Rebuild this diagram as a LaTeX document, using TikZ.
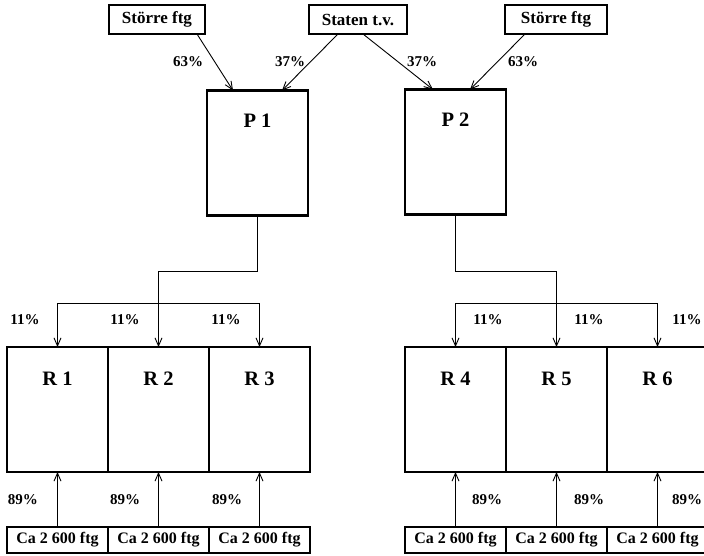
\documentclass[tikz,border=0pt]{standalone}
\usepackage{fontspec}
\setmainfont{Liberation Serif}
\usetikzlibrary{arrows.meta}
\begin{document}
\begin{tikzpicture}[x=1pt,y=-1pt,
  frame/.style={draw, line width=2.4pt, inner sep=0pt, outer sep=0pt},
  srcbox/.style={frame, minimum height=29pt, font=\bfseries\fontsize{17}{17}\selectfont},
  bigbox/.style={frame, minimum width=101pt, minimum height=125pt},
  firmbox/.style={frame, minimum width=101pt, minimum height=26pt, font=\bfseries\fontsize{16}{16}\selectfont},
  title/.style={font=\bfseries\fontsize{20.5}{20.5}\selectfont, inner sep=0pt},
  pct/.style={font=\bfseries\fontsize{15}{15}\selectfont, inner sep=0pt},
  link/.style={line width=0.9pt},
  arr/.style={link, -{Straight Barb[length=8pt,width=7pt]}}]
\path[use as bounding box, clip] (0,0) rectangle (704,555);
\fill[white] (0,0) rectangle (704,555);

% sources of finance
\node[srcbox, minimum width=96pt]  (sfL) at (157,19.5) {Större ftg};
\node[srcbox, minimum width=98pt]  (st)  at (358,19.5) {Staten t.v.};
\node[srcbox, minimum width=102pt] (sfR) at (556,19.5) {Större ftg};

% principal units
\node[bigbox] (P1) at (257.5,153) {};
\node[bigbox] (P2) at (455.5,152) {};
\node[title] (P1t) at ([yshift=-30pt]P1.north) {P 1};
\node[title] (P2t) at ([yshift=-30pt]P2.north) {P 2};

% regional units
\foreach \n/\x in {1/57.5, 2/158.5, 3/259.5, 4/455.5, 5/556.5, 6/657.5} {
  \node[bigbox] (R\n) at (\x,409.5) {};
  \node[title] (R\n t) at ([yshift=-32pt]R\n.north) {R \n};
  \node[firmbox] (F\n) at (\x,540) {Ca 2 600 ftg};
}

% funding flows from the top
\draw[arr] ([xshift=-8pt]sfL.south east) -- ([xshift=26pt]P1.north west);
\draw[arr] ([xshift=-20pt]st.south) -- ([xshift=-26pt]P1.north east);
\draw[arr] ([xshift=5pt]st.south) -- ([xshift=28pt]P2.north west);
\draw[arr] ([xshift=-31pt]sfR.south) -- ([xshift=-36pt]P2.north east);
\node[pct] (a1) at (188,62) {63\%};
\node[pct] (a2) at (290,62) {37\%};
\node[pct] (a3) at (422,62) {37\%};
\node[pct] (a4) at (523,62) {63\%};

% distribution from P1 to R1-R3
\draw[arr] (P1.south) -- (P1.south |- 0,271) -| (R2.north);
\coordinate (b1) at (R1.north |- 0,303);
\coordinate (b3) at (R3.north |- 0,303);
\draw[link] (b1) -- (b3);
\draw[arr] (b1) -- (R1.north);
\draw[arr] (b3) -- (R3.north);

% distribution from P2 to R4-R6
\draw[arr] (P2.south) -- (P2.south |- 0,271) -| (R5.north);
\coordinate (b4) at (R4.north |- 0,303);
\coordinate (b6) at (R6.north |- 0,303);
\draw[link] (b4) -- (b6);
\draw[arr] (b4) -- (R4.north);
\draw[arr] (b6) -- (R6.north);

\foreach \n/\x in {1/25, 2/125, 3/226, 4/488, 5/589, 6/687}
  \node[pct] (s\n) at (\x,320) {11\%};

% contributions from the firms
\foreach \n in {1,...,6}
  \draw[arr] (F\n.north) -- (R\n.south);
\foreach \n/\x in {1/23, 2/125, 3/227, 4/487, 5/589, 6/687}
  \node[pct] (f\n) at (\x,500) {89\%};
\end{tikzpicture}
\end{document}
